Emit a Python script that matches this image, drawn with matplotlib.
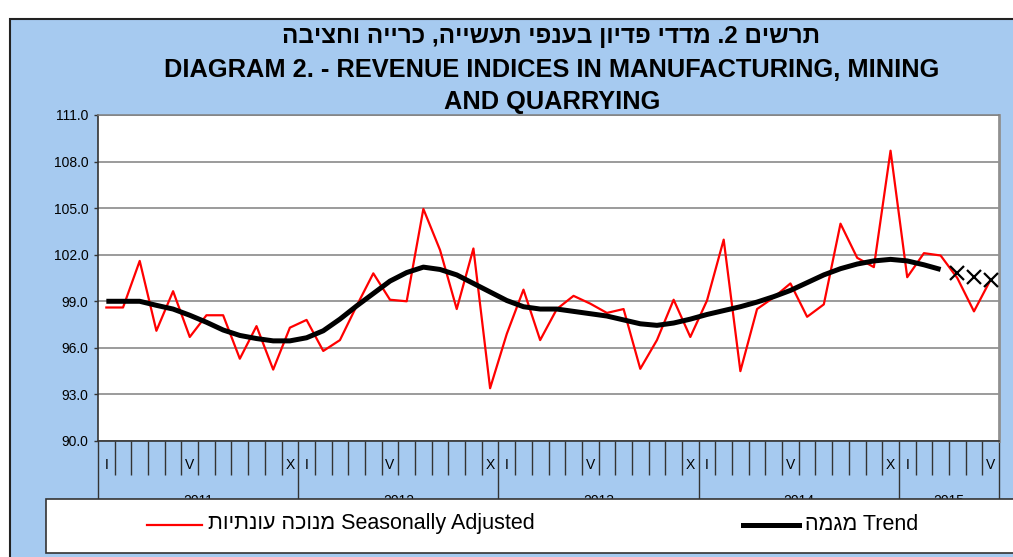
import numpy as np
import matplotlib
matplotlib.use('Agg')
import matplotlib.pyplot as plt
from matplotlib.patches import Rectangle
from matplotlib.lines import Line2D

plt.rcParams['font.family'] = ['Liberation Sans', 'DejaVu Sans']

# monthly data, Jan 2011 - Jun 2015
years = ['2011', '2012', '2013', '2014', '2015']
months_in_year = [12, 12, 12, 12, 6]
month_marks = ['I', '', '', '', '', 'V', '', '', '', '', '', 'X']

seasonally_adjusted = [98.6, 98.6, 101.6, 97.1, 99.65, 96.7, 98.1, 98.1, 95.3, 97.4, 94.6, 97.3,
                       97.8, 95.8, 96.5, 98.7, 100.8, 99.1, 99.0, 104.95, 102.3, 98.5, 102.4, 93.4,
                       96.9, 99.75, 96.5, 98.5, 99.35, 98.85, 98.25, 98.5, 94.65, 96.5, 99.1, 96.7,
                       99.05, 102.97, 94.5, 98.5, 99.25, 100.15, 98.0, 98.8, 104.0, 101.8, 101.2, 108.7,
                       100.55, 102.1, 101.95, 100.5, 98.35, 100.4]
trend = [99.0, 99.0, 99.0, 98.74, 98.5, 98.1, 97.65, 97.15, 96.8, 96.6, 96.45, 96.45,
         96.65, 97.1, 97.85, 98.7, 99.5, 100.3, 100.85, 101.2, 101.05, 100.7, 100.15, 99.6,
         99.05, 98.65, 98.5, 98.5, 98.35, 98.2, 98.05, 97.8, 97.55, 97.45, 97.6, 97.85,
         98.15, 98.4, 98.65, 98.95, 99.3, 99.7, 100.2, 100.7, 101.1, 101.4, 101.6, 101.7,
         101.6, 101.35, 101.05]
trend_estimate = [100.85, 100.55, 100.35]

title_he = 'תרשים 2. מדדי פדיון בענפי תעשייה, כרייה וחציבה'
title_en = 'DIAGRAM 2. - REVENUE INDICES IN MANUFACTURING, MINING\nAND QUARRYING'
label_sa = ('מנוכה עונתיות', 'Seasonally Adjusted')
label_trend = ('מגמה', 'Trend')

W, H = 1013, 557
BLUE = '#A6CAF0'


def vis(s):
    # matplotlib has no bidi, so hebrew goes in visual order
    return s[::-1]


def fx(x):
    return x / W


def fy(y):
    return 1 - y / H


fig = plt.figure(figsize=(W / 100, H / 100), dpi=100, facecolor='white')

# blue chart area with dark frame
fig.add_artist(Rectangle((fx(10), -0.05), 1.2, fy(19) + 0.05, transform=fig.transFigure,
                         facecolor=BLUE, edgecolor='#222222', lw=1.5, zorder=-10))

ax = fig.add_axes([fx(98), fy(441), fx(999) - fx(98), fy(115) - fy(441)])
ax.set_facecolor('white')

n = len(seasonally_adjusted)
x = np.arange(n) + 0.5
ax.plot(x, seasonally_adjusted, color='#FF0000', lw=1.6, zorder=3)
ax.plot(x[:len(trend)], trend, color='black', lw=3.6, zorder=4, solid_capstyle='butt')
ax.plot(x[len(trend):len(trend) + len(trend_estimate)], trend_estimate, ls='none',
        marker='x', ms=10, mew=1.6, color='black', zorder=4)

ax.set_xlim(0, n)
ax.set_ylim(90, 111)
yt = np.arange(90, 112, 3)
ax.set_yticks(yt)
ax.set_yticklabels(['%.1f' % v for v in yt], fontsize=10)
ax.yaxis.grid(True, color='#808080', lw=1.1)
ax.set_axisbelow(True)
ax.tick_params(axis='y', length=3, width=1, color='#333333', pad=4)

bounds = np.cumsum([0] + months_in_year)
ax.set_xticks(bounds)
ax.set_xticks(np.arange(0, n + 1), minor=True)
ax.set_xticklabels([])
ax.tick_params(axis='x', which='major', length=41.8, width=1, color='#333333')
ax.tick_params(axis='x', which='minor', length=24.5, width=1, color='#333333')

for side in ['left', 'bottom']:
    ax.spines[side].set_color('#333333')
    ax.spines[side].set_linewidth(1.2)
ax.spines['right'].set_color('#909090')
ax.spines['right'].set_linewidth(2)
ax.spines['top'].set_color('#808080')
ax.spines['top'].set_linewidth(1.1)

trans = ax.get_xaxis_transform()
ax_h = 441 - 115
for i in range(n):
    lab = month_marks[i % 12]
    if lab:
        ax.text(i + 0.5, -(465 - 441) / ax_h, lab, transform=trans, ha='center', va='center',
                fontsize=10, clip_on=False)
for yr, a, b in zip(years, bounds[:-1], bounds[1:]):
    ax.text((a + b) / 2, -(501 - 441) / ax_h, yr, transform=trans, ha='center', va='center',
            fontsize=10, clip_on=False)

# titles
fig.text(fx(551), fy(36), vis(title_he), ha='center', va='center', fontsize=17.5, fontweight='bold')
fig.text(fx(552), fy(86), title_en, ha='center', va='center', fontsize=18.3, fontweight='bold',
         linespacing=1.42)

# legend box
fig.add_artist(Rectangle((fx(46), fy(553)), 1.2, fy(499) - fy(553), transform=fig.transFigure,
                         facecolor='white', edgecolor='#333333', lw=1.2, zorder=5))
fig.add_artist(Line2D([fx(147), fx(202)], [fy(525), fy(525)], transform=fig.transFigure,
                      color='#FF0000', lw=1.6, zorder=6))
fig.text(fx(208), fy(524), vis(label_sa[0]) + ' ' + label_sa[1], va='center', fontsize=15.5,
         zorder=6)
fig.add_artist(Line2D([fx(743), fx(799)], [fy(525), fy(525)], transform=fig.transFigure,
                      color='black', lw=3.6, zorder=6))
fig.text(fx(805), fy(524), vis(label_trend[0]) + ' ' + label_trend[1], va='center', fontsize=15.5,
         zorder=6)

fig.savefig('out.png', dpi=100)
